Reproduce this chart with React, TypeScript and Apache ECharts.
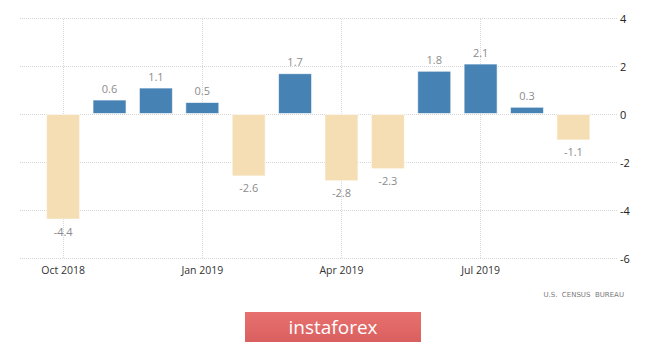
import React, { useEffect, useRef } from "react";
import * as echarts from "echarts";

const months = [
  "Oct 2018", "Nov 2018", "Dec 2018", "Jan 2019", "Feb 2019", "Mar 2019",
  "Apr 2019", "May 2019", "Jun 2019", "Jul 2019", "Aug 2019", "Sep 2019",
];
const values = [-4.4, 0.6, 1.1, 0.5, -2.6, 1.7, -2.8, -2.3, 1.8, 2.1, 0.3, -1.1];
const xTickIndices = [0, 3, 6, 9];
const yTicks = [-6, -4, -2, 0, 2, 4];
const source = "U.S.  CENSUS  BUREAU";
const brand = "instaforex";

export default function App() {
  const ref = useRef<HTMLDivElement>(null);
  useEffect(() => {
    if (!ref.current) return;
    const chart = echarts.init(ref.current, undefined, { renderer: "svg" });
    const data = values.map((v, i) => ({
      value: [i, v],
      itemStyle: { color: v >= 0 ? "#4682b4" : "#f5deb3" },
      label: { position: v >= 0 ? "top" : "bottom" },
    }));
    chart.setOption({
      animation: false,
      backgroundColor: "#ffffff",
      grid: { left: 20, right: 48, top: 18, bottom: 85 },
      xAxis: {
        type: "value",
        min: -0.93,
        max: 11.94,
        axisLine: { show: false },
        axisTick: { show: false },
        splitLine: { show: false },
        axisLabel: {
          customValues: xTickIndices,
          formatter: (v: number) => months[Math.round(v)] ?? "",
          color: "#333",
          fontSize: 10.5,
          fontFamily: "Open Sans, sans-serif",
          margin: 6,
        },
      },
      yAxis: {
        type: "value",
        position: "right",
        min: yTicks[0],
        max: yTicks[yTicks.length - 1],
        interval: 2,
        axisLine: { show: false },
        axisTick: { show: false },
        splitLine: { lineStyle: { color: "#d6d6d6", type: [1, 1], width: 1 } },
        axisLabel: {
          color: "#222",
          fontSize: 11,
          fontFamily: "Open Sans, sans-serif",
          margin: 3,
        },
      },
      series: [
        {
          type: "bar",
          data,
          barWidth: 34,
          itemStyle: { borderColor: "rgba(255,255,255,0.6)", borderWidth: 1 },
          label: {
            show: true,
            color: "#8c8c8c",
            fontSize: 11,
            fontFamily: "Open Sans, sans-serif",
            distance: 6,
            formatter: (p: any) => String(p.value[1]),
          },
          markLine: {
            silent: true,
            symbol: "none",
            label: { show: false },
            lineStyle: { color: "#d9d9d9", type: [1, 1], width: 1 },
            data: xTickIndices.map((i) => ({ xAxis: i })),
            z: 0,
          },
          z: 2,
        },
      ],
      graphic: [
        {
          type: "text",
          right: 41,
          top: 291,
          style: {
            text: source,
            fill: "#7a7a7a",
            fontSize: 7,
            fontFamily: "DejaVu Sans, sans-serif",
          },
        },
        {
          type: "rect",
          shape: { x: 245, y: 312, width: 176, height: 30 },
          style: {
            fill: new echarts.graphic.LinearGradient(0, 0, 0, 1, [
              { offset: 0, color: "#e8706f" },
              { offset: 1, color: "#d9605f" },
            ]),
          },
        },
        {
          type: "text",
          x: 333,
          y: 327,
          style: {
            text: brand,
            fill: "#ffffff",
            fontSize: 19,
            fontFamily: "Open Sans, sans-serif",
            align: "center",
            verticalAlign: "middle",
          },
        },
      ],
    });
    return () => chart.dispose();
  }, []);
  return (
    <div
      ref={ref}
      style={{ position: "fixed", left: 0, top: 0, width: 665, height: 343 }}
    />
  );
}
